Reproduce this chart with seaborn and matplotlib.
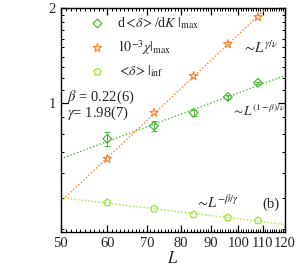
import numpy as np
import pandas as pd
import matplotlib
matplotlib.use("Agg")
import matplotlib.pyplot as plt
import seaborn as sns
from matplotlib.ticker import FixedLocator, NullFormatter, FixedFormatter

# ---- data ----
L = [60, 72, 84, 96, 108]
dmax = [0.770, 0.846, 0.931, 1.045, 1.158]
dmax_err = [0.040, 0.030, 0.022, 0.012, 0.010]
chi = [0.665, 0.931, 1.218, 1.538, 1.872]
dinf = [0.483, 0.462, 0.443, 0.433, 0.424]
xlim = (50, 120)
ylim = (0.39, 2.0)

c_d = "#4fb83a"
c_chi = "#ff7f2a"
c_inf = "#99e83a"

sns.set_style("ticks")
plt.rcParams["font.family"] = ["Liberation Serif", "DejaVu Serif"]
plt.rcParams["mathtext.fontset"] = "stix"

fig = plt.figure(figsize=(3.0, 2.67), dpi=100)
ax = fig.add_axes([0.202, 0.131, 0.748, 0.839])
ax.set_xscale("log")
ax.set_yscale("log")

Lfit = np.array(xlim, dtype=float)
for y, c in [(dmax, c_d), (chi, c_chi), (dinf, c_inf)]:
    p = np.polyfit(np.log(L), np.log(y), 1)
    df = pd.DataFrame({"L": Lfit, "y": np.exp(np.polyval(p, np.log(Lfit)))})
    sns.lineplot(data=df, x="L", y="y", ax=ax, color=c, lw=1.0,
                 linestyle=(0, (1, 1.5)), legend=False)

ax.errorbar(L, dmax, yerr=dmax_err, fmt="none", ecolor=c_d, elinewidth=0.7,
            capsize=2.0, capthick=0.7)

df_d = pd.DataFrame({"L": L, "y": dmax})
df_c = pd.DataFrame({"L": L, "y": chi})
df_i = pd.DataFrame({"L": L, "y": dinf})
sns.scatterplot(data=df_d, x="L", y="y", ax=ax, marker="D", s=20,
                facecolor="none", edgecolor=c_d, linewidth=0.9,
                label=r"d$<\!\delta\!>$/d$K$ $|_{\rm max}$")
sns.scatterplot(data=df_c, x="L", y="y", ax=ax, marker="*", s=40,
                facecolor="none", edgecolor=c_chi, linewidth=0.8,
                label=r"$10^{-3}\chi|_{\rm max}$")
sns.scatterplot(data=df_i, x="L", y="y", ax=ax, marker="p", s=28,
                facecolor="none", edgecolor=c_inf, linewidth=0.9,
                label=r"$<\!\delta\!>|_{\rm inf}$")

ax.set_xlim(*xlim)
ax.set_ylim(*ylim)

xt = [50, 60, 70, 80, 90, 100, 110, 120]
ax.xaxis.set_major_locator(FixedLocator(xt))
ax.xaxis.set_major_formatter(FixedFormatter([str(v) for v in xt]))
ax.xaxis.set_minor_locator(FixedLocator(np.arange(50, 121, 1)))
ax.xaxis.set_minor_formatter(NullFormatter())
ax.yaxis.set_major_locator(FixedLocator([1, 2]))
ax.yaxis.set_major_formatter(FixedFormatter(["1", "2"]))
ax.yaxis.set_minor_locator(FixedLocator([0.4, 0.5, 0.6, 0.7, 0.8, 0.9] +
                                        list(np.arange(1.1, 2.0, 0.1))))
ax.yaxis.set_minor_formatter(NullFormatter())

ax.tick_params(which="both", direction="in", top=True, right=True,
               labelsize=10.5, color="black")
ax.tick_params(which="major", length=5, width=0.9)
ax.tick_params(which="minor", length=2.5, width=0.7)
for s in ax.spines.values():
    s.set_linewidth(1.0)
    s.set_color("black")

ax.set_xlabel(r"$L$", fontsize=12, labelpad=1)
ax.set_ylabel("")

leg = ax.legend(loc="upper left", bbox_to_anchor=(0.09, 1.012), frameon=False,
                fontsize=10, handlelength=1.0, handletextpad=0.9,
                labelspacing=0.5, borderaxespad=0.3)

tx = dict(transform=ax.transAxes, fontsize=10.5)
ax.text(0.03, 0.585, r"$\beta$ = 0.22(6)", **tx)
ax.text(0.03, 0.515, r"$\gamma$= 1.98(7)", **tx)
ax.text(0.81, 0.80, r"$\sim\!L^{\gamma/\nu}$", **tx)
ax.text(0.765, 0.52, r"$\sim\!L^{(1-\beta)/\nu}$", transform=ax.transAxes,
        fontsize=9.5)
ax.text(0.60, 0.11, r"$\sim\!L^{-\beta/\gamma}$", **tx)
ax.text(0.90, 0.11, "(b)", **tx)

fig.savefig("out.png", dpi=100)
